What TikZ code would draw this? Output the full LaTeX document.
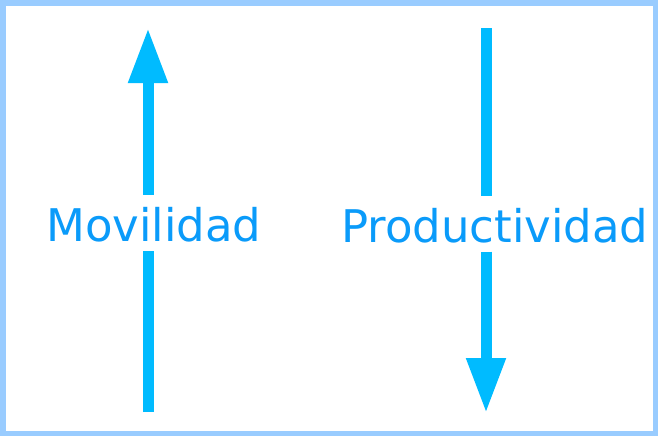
\documentclass[tikz,border=0pt]{standalone}
\usepackage{fontspec}
\setmainfont{DejaVu Sans}
\usetikzlibrary{arrows.meta}
\definecolor{frameblue}{HTML}{99CCFF}
\definecolor{arrowblue}{HTML}{00BBFF}
\definecolor{textblue}{HTML}{0A9BFA}
\tikzset{
  shaft/.style={draw=arrowblue, line width=11pt, line cap=butt},
  headed/.style={shaft, -{Triangle[length=55pt,width=37pt]}},
  lbl/.style={font=\fontsize{45}{50}\selectfont, text=textblue, inner xsep=0pt, inner ysep=0pt, text height=46pt, text depth=9.5pt, anchor=base west}
}
\begin{document}
\begin{tikzpicture}[x=1pt,y=-1pt]
\useasboundingbox (0,0) rectangle (660,437);
\fill[white] (0,0) rectangle (660,437);
\draw[frameblue, line width=5.5pt] (2.75,3) rectangle (655.5,433.5);
% left arrow
\coordinate (mbot) at (148,412);
\coordinate (mtop) at (148,28);
\node[lbl] (mov) at (46,241) {Movilidad};
\draw[shaft] (mbot) -- (mov.south -| mbot);
\draw[headed] (mov.north -| mtop) -- (mtop);
% right arrow
\coordinate (ptop) at (486,28);
\coordinate (pbot) at (486,413);
\node[lbl] (prod) at (341,242) {Productividad};
\draw[shaft] (ptop) -- (prod.north -| ptop);
\draw[headed] (prod.south -| pbot) -- (pbot);
\end{tikzpicture}
\end{document}
